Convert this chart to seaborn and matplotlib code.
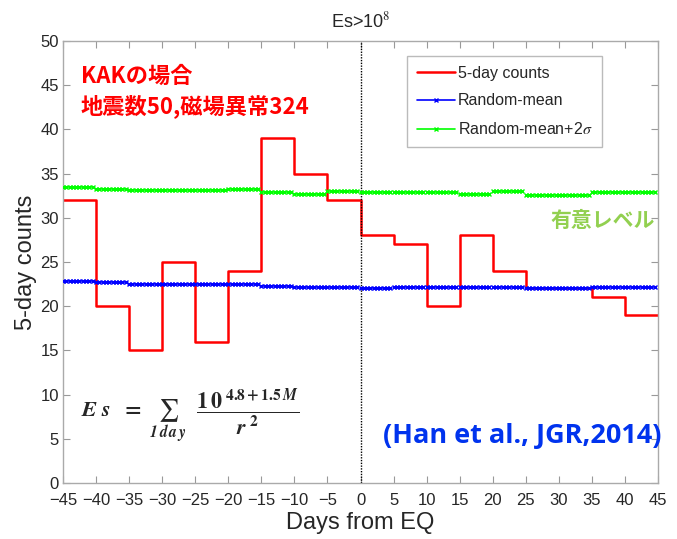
import numpy as np
import pandas as pd
import matplotlib
matplotlib.use("Agg")
import matplotlib.pyplot as plt
import seaborn as sns

sns.set_style("ticks")
plt.rcParams['font.family'] = ['Liberation Sans', 'DejaVu Sans']
plt.rcParams['mathtext.fontset'] = 'stix'

# ---- data ----
bin_starts = [-45, -40, -35, -30, -25, -20, -15, -10, -5, 0, 5, 10, 15, 20, 25, 30, 35, 40]
counts = [32, 20, 15, 25, 16, 24, 39, 35, 32, 28, 27, 20, 28, 24, 22, 22, 21, 19]
random_mean = [22.8, 22.7, 22.5, 22.5, 22.5, 22.5, 22.3, 22.2, 22.2, 22.0, 22.2, 22.2, 22.2, 22.2, 22.1, 22.1, 22.2, 22.2]
random_mean_2s = [33.5, 33.3, 33.1, 33.1, 33.1, 33.3, 32.9, 32.7, 33.0, 32.9, 32.9, 32.9, 32.7, 33.0, 32.6, 32.6, 32.9, 32.9]
xticks = list(range(-45, 50, 5))
yticks = list(range(0, 55, 5))

fig = plt.figure(figsize=(6.77, 5.39), dpi=100)
ax = fig.add_axes([0.093, 0.104, 0.879, 0.820])

# red step line
step_df = pd.DataFrame({"day": bin_starts + [45], "count": counts + [counts[-1]]})
sns.lineplot(data=step_df, x="day", y="count", ax=ax, color="#ff0000", lw=1.8,
             drawstyle="steps-post", label="5-day counts", legend=False, zorder=2)

# random mean / +2sigma: one marked segment per 5-day bin
for i, (s, m, g) in enumerate(zip(bin_starts, random_mean, random_mean_2s)):
    xs = np.arange(s, s + 4.6, 0.5)
    seg = pd.DataFrame({"day": xs, "mean": [m] * len(xs), "mean2s": [g] * len(xs)})
    sns.lineplot(data=seg, x="day", y="mean", ax=ax, color="#0000ff", lw=1.2,
                 marker="x", markersize=3.5, markeredgewidth=1.0,
                 markeredgecolor="#0000ff", zorder=3,
                 label="Random-mean" if i == 0 else None, legend=False)
    sns.lineplot(data=seg, x="day", y="mean2s", ax=ax, color="#00ff00", lw=1.2,
                 marker="x", markersize=3.5, markeredgewidth=1.0,
                 markeredgecolor="#00ff00", zorder=3,
                 label=r"Random-mean+2$\sigma$" if i == 0 else None, legend=False)

ax.axvline(0, color="black", ls=(0, (1, 1)), lw=1.0)

ax.set_xlim(-45, 45)
ax.set_ylim(0, 50)
ax.set_xticks(xticks)
ax.set_yticks(yticks)
ax.tick_params(direction="in", top=True, right=True, length=5, color="#999999",
               labelsize=12)
ax.tick_params(axis="x", pad=7)
ax.tick_params(axis="y", pad=3)
for sp in ax.spines.values():
    sp.set_color("#aaaaaa")
    sp.set_linewidth(1.0)

ax.set_xlabel("Days from EQ", fontsize=17, labelpad=3)
ax.set_ylabel("5-day counts", fontsize=17, labelpad=2)
ax.set_title(r"Es>10$^{8}$", fontsize=13, pad=10)

leg = ax.legend(loc="upper left", bbox_to_anchor=(0.578, 0.966), fontsize=11.5,
                frameon=True, fancybox=False, edgecolor="#aaaaaa", borderaxespad=0,
                handlelength=2.4, handletextpad=0.2, borderpad=0.6, labelspacing=0.8)
leg.get_frame().set_linewidth(1.0)

jp = ['Noto Sans CJK JP', 'DejaVu Sans']
ax.text(0.03, 0.92, "KAKの場合", transform=ax.transAxes, color="#ff0000",
        fontsize=16, fontweight="bold", family=jp, va="center")
ax.text(0.03, 0.852, "地震数50,磁場異常324", transform=ax.transAxes, color="#ff0000",
        fontsize=16, fontweight="bold", family=jp, va="center")
ax.text(0.995, 0.594, "有意レベル", transform=ax.transAxes, color="#92d050",
        fontsize=15, fontweight="bold", family=jp, va="center", ha="right")
ax.text(1.005, 0.107, "(Han et al., JGR,2014)", transform=ax.transAxes, color="#0033ee",
        fontsize=19.5, fontweight="bold", family=['Open Sans', 'DejaVu Sans'],
        va="center", ha="right")
ax.text(0.03, 0.15,
        r"$\mathbfit{E\ s}\ \ \mathbf{=}\ \sum_{\mathbfit{1\,d\,a\,y}}\ \ \dfrac{\mathbf{1\,0}^{\ \mathbf{4.8+1.5}\,\mathbfit{M}}}{\mathbfit{r}^{\ \mathbf{2}}}$",
        transform=ax.transAxes, fontsize=16, va="center", ha="left")

fig.savefig("out.png", dpi=100)
